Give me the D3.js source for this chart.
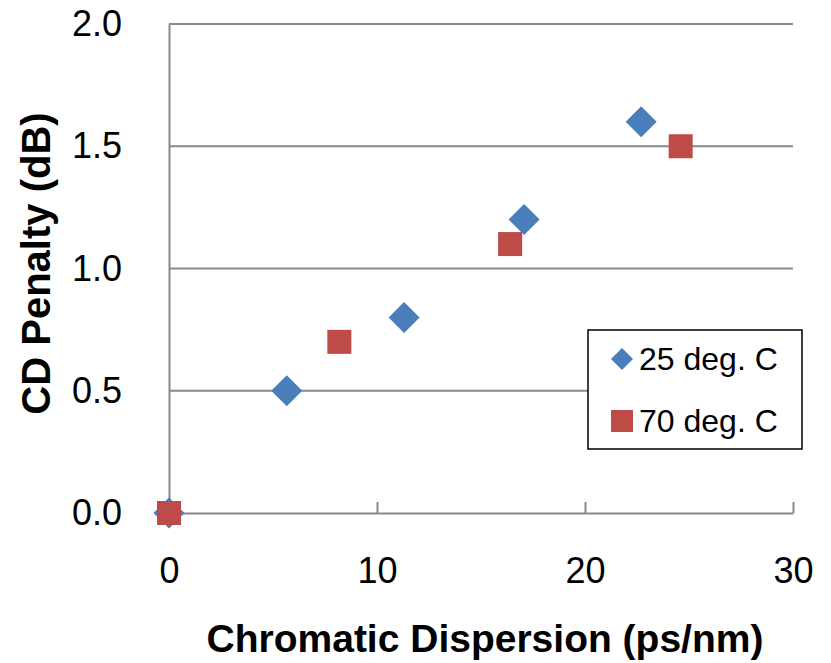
<!DOCTYPE html>
<html>
<head>
<meta charset="utf-8">
<script src="https://cdn.jsdelivr.net/npm/d3@7"></script>
<style>
  body { margin: 0; background: #fff; }
  svg { display: block; font-family: "Liberation Sans", Arial, sans-serif; }
</style>
</head>
<body>
<script>
// data
const series = ['25 deg. C', '70 deg. C'];
const cd25 = [0, 5.66, 11.3, 17.07, 22.7];
const pen25 = [0, 0.5, 0.8, 1.2, 1.6];
const cd70 = [0, 8.19, 16.4, 24.6];
const pen70 = [0, 0.7, 1.1, 1.5];
const xTicks = [0, 10, 20, 30];
const yTicks = [0, 0.5, 1.0, 1.5, 2.0];

const width = 831;
const height = 663;
const margin = { top: 24, right: 38, bottom: 150, left: 169 };
const grey = '#898989';
const blue = '#4A7EBB';
const red = '#BE4B48';

const x = d3.scaleLinear()
  .domain([0, 30])
  .range([margin.left, width - margin.right]);

const y = d3.scaleLinear()
  .domain([0, 2])
  .range([height - margin.bottom, margin.top]);

const svg = d3.select('body')
  .append('svg')
  .attr('width', width)
  .attr('height', height);

// horizontal gridlines
svg.append('g')
  .selectAll('line')
  .data(yTicks.filter(d => d > 0))
  .join('line')
  .attr('x1', x(0))
  .attr('x2', x(30))
  .attr('y1', d => y(d))
  .attr('y2', d => y(d))
  .attr('stroke', grey)
  .attr('stroke-width', 2);

const xAxis = g => g
  .attr('transform', `translate(0,${y(0)})`)
  .call(d3.axisBottom(x).tickValues(xTicks).tickSizeInner(-11).tickSizeOuter(0).tickPadding(44))
  .call(g => g.selectAll('.domain, .tick line').attr('stroke', grey).attr('stroke-width', 2))
  .call(g => g.selectAll('.tick text').attr('font-size', 36).attr('fill', '#000'));

const yAxis = g => g
  .attr('transform', `translate(${x(0)},0)`)
  .call(d3.axisLeft(y).tickValues(yTicks).tickFormat(d3.format('.1f')).tickSize(0).tickPadding(47))
  .call(g => g.select('.domain').attr('stroke', grey).attr('stroke-width', 2))
  .call(g => g.selectAll('.tick text').attr('font-size', 36).attr('fill', '#000'));

svg.append('g').call(xAxis);
svg.append('g').call(yAxis);

// axis titles
svg.append('text')
  .attr('x', (x(0) + x(30)) / 2 + 4)
  .attr('y', 652)
  .attr('text-anchor', 'middle')
  .attr('font-size', 39)
  .attr('font-weight', 'bold')
  .text('Chromatic Dispersion (ps/nm)');

svg.append('text')
  .attr('transform', `translate(50,${(y(0) + y(2)) / 2 - 5}) rotate(-90)`)
  .attr('text-anchor', 'middle')
  .attr('font-size', 40)
  .attr('font-weight', 'bold')
  .text('CD Penalty (dB)');

const diamond = s => `M0,${-s}L${s},0L0,${s}L${-s},0Z`;

// 25 deg. C
svg.append('g')
  .selectAll('path')
  .data(cd25.map((d, i) => [d, pen25[i]]))
  .join('path')
  .attr('transform', d => `translate(${x(d[0])},${y(d[1])})`)
  .attr('d', diamond(15.5))
  .attr('fill', blue);

// 70 deg. C
svg.append('g')
  .selectAll('rect')
  .data(cd70.map((d, i) => [d, pen70[i]]))
  .join('rect')
  .attr('x', d => x(d[0]) - 12)
  .attr('y', d => y(d[1]) - 12)
  .attr('width', 24)
  .attr('height', 24)
  .attr('fill', red);

// legend
const legend = svg.append('g').attr('transform', 'translate(588,330)');

legend.append('rect')
  .attr('width', 214)
  .attr('height', 119)
  .attr('fill', '#fff')
  .attr('stroke', '#000')
  .attr('stroke-width', 1.5);

legend.append('path')
  .attr('transform', 'translate(34,29)')
  .attr('d', diamond(11))
  .attr('fill', blue);

legend.append('rect')
  .attr('x', 23)
  .attr('y', 80)
  .attr('width', 22)
  .attr('height', 22)
  .attr('fill', red);

legend.selectAll('text')
  .data(series)
  .join('text')
  .attr('x', 51)
  .attr('y', (d, i) => 29 + i * 62)
  .attr('dy', '0.35em')
  .attr('font-size', 32)
  .text(d => d);
</script>
</body>
</html>
